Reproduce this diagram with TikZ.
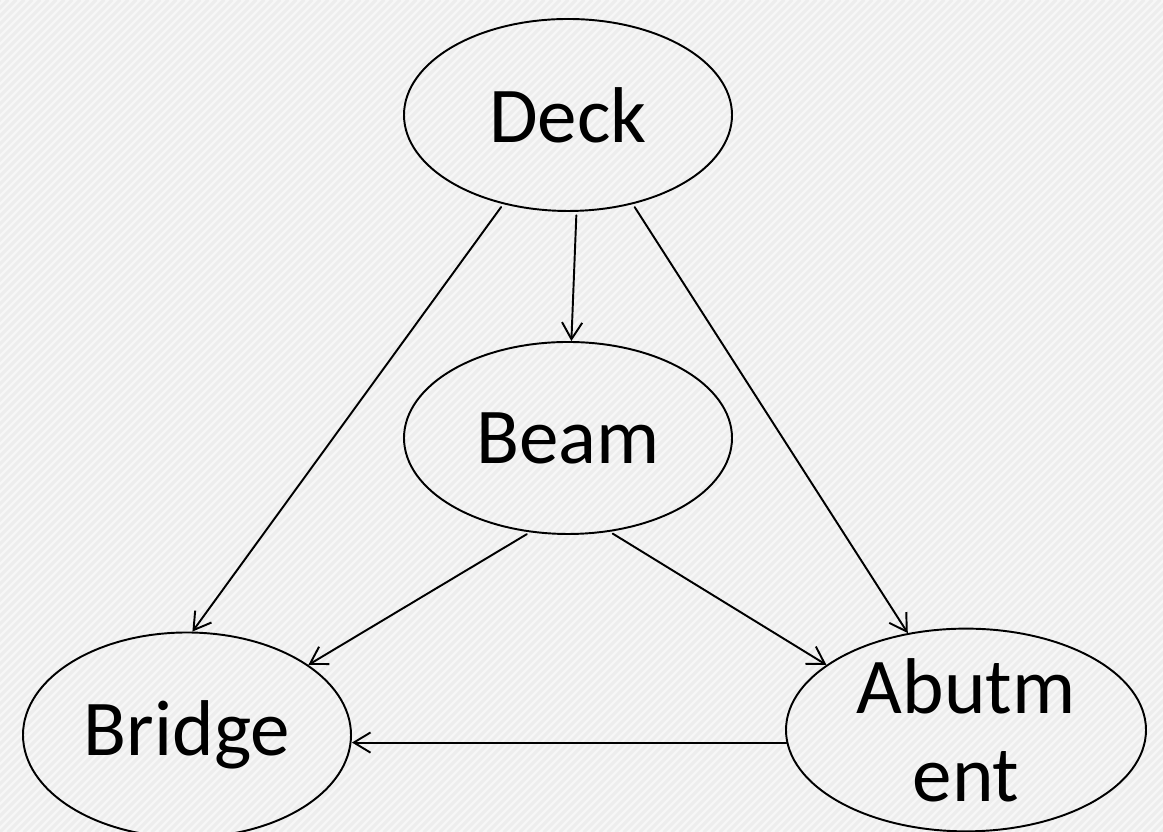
\documentclass[tikz,border=0pt]{standalone}
\usepackage{fontspec}
\setmainfont{Carlito}
\usetikzlibrary{positioning,shapes.geometric,arrows.meta}

\begin{document}
\begin{tikzpicture}[line cap=round, line join=round,
		part/.style={ellipse, draw=black, line width=1.1pt, inner sep=0pt,
			minimum width=6.56cm, minimum height=3.84cm, align=center,
			font=\fontsize{45}{50}\selectfont},
		link/.style={-{Straight Barb[length=9.5pt,width=11.5pt]}, line width=1.1pt, shorten <=2pt}]
	% ---- nền sọc chéo ----
	\useasboundingbox (0,0) rectangle (23.26,16.64);
	\fill[black!3] (0,0) rectangle (23.26,16.64);
	\begin{scope}
		\clip (0,0) rectangle (23.26,16.64);
		\foreach \i in {0,...,250}
		\draw[black!7, line width=0.06cm] (\i*0.16-16.64,0) -- ++(16.64,16.64);
	\end{scope}
	
	% ---- tọa độ 4 nút ----
	\coordinate (D) at (11.36,14.34);
	\coordinate (M) at (11.36, 7.88);
	\coordinate (B) at ( 3.74, 1.94);
	\coordinate (A) at (19.32, 2.04);
	
	% ---- các nút ----
	\node[part] (nDeck) at (D) {Deck};
	\node[part] (nBeam) at (M) {Beam};
	\node[part, minimum height=4.1cm] (nBridge) at (B) {Bridge};
	\node[part, minimum width=7.2cm, minimum height=4cm] (nAbut) at (A) {Abutm\\ent};
	
	% ---- các mũi tên ----
	\draw[link] (nDeck.-126) -- (nBridge.87);
	\draw[link] (nDeck.-85)  -- (nBeam.88);
	\draw[link] (nDeck.-54)  -- (nAbut.121);
	
	\draw[link] (nBeam.-112) -- (nBridge.30);
	\draw[link] (nBeam.-66)  -- (nAbut.155);
	
	\draw[link, shorten <=0pt] (nAbut.-176) -- (nAbut.-176 -| nBridge.east);
\end{tikzpicture}
\end{document}
